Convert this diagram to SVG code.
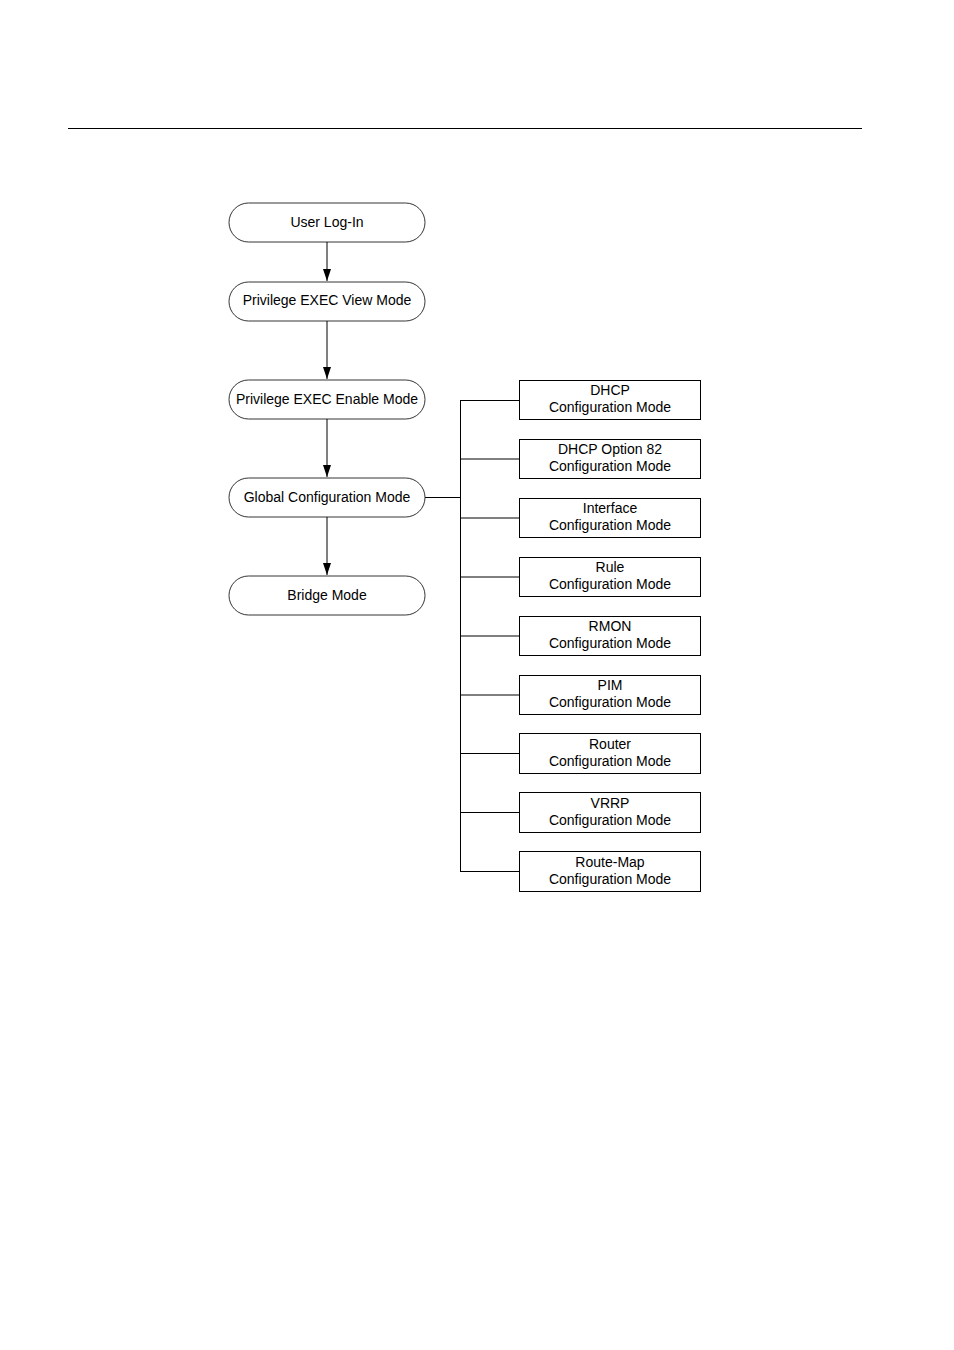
<svg xmlns="http://www.w3.org/2000/svg" width="954" height="1350" viewBox="0 0 954 1350">
<defs>
<marker id="arr" viewBox="0 0 12 8" refX="12" refY="4" markerWidth="12" markerHeight="8" markerUnits="userSpaceOnUse" orient="auto">
<path d="M0,0 L12,4 L0,8 z" fill="#000"/>
</marker>
<style>
.pill{fill:#fff;stroke:#000;stroke-width:0.8}
.box{fill:#fff;stroke:#000;stroke-width:1}
.t{font-family:"Liberation Sans",Arial,sans-serif;font-size:14px;fill:#000;text-anchor:middle}
.c{fill:none;stroke:#000;stroke-width:1}
</style>
</defs>
<rect width="954" height="1350" fill="#fff"/>
<line x1="68" y1="128.5" x2="862" y2="128.5" stroke="#000" stroke-width="1"/>
<g id="connectors">
<line class="c" x1="327" y1="242" x2="327" y2="281" marker-end="url(#arr)"/>
<line class="c" x1="327" y1="321" x2="327" y2="379" marker-end="url(#arr)"/>
<line class="c" x1="327" y1="419" x2="327" y2="477" marker-end="url(#arr)"/>
<line class="c" x1="327" y1="517" x2="327" y2="575" marker-end="url(#arr)"/>
<polyline class="c" points="425,497.5 460.5,497.5"/>
<line class="c" x1="460.5" y1="400" x2="460.5" y2="871.5"/>
<line class="c" x1="460" y1="400.5" x2="519" y2="400.5"/>
<line class="c" x1="460" y1="459" x2="519" y2="459"/>
<line class="c" x1="460" y1="518" x2="519" y2="518"/>
<line class="c" x1="460" y1="577" x2="519" y2="577"/>
<line class="c" x1="460" y1="636" x2="519" y2="636"/>
<line class="c" x1="460" y1="695" x2="519" y2="695"/>
<line class="c" x1="460" y1="753.5" x2="519" y2="753.5"/>
<line class="c" x1="460" y1="812.5" x2="519" y2="812.5"/>
<line class="c" x1="460" y1="871.5" x2="519" y2="871.5"/>
</g>
<g id="user-login"><rect class="pill" x="229" y="203" width="196" height="39" rx="19.5"/><text class="t" x="327" y="227">User Log-In</text></g>
<g id="priv-view"><rect class="pill" x="229" y="282" width="196" height="39" rx="19.5"/><text class="t" x="327" y="305">Privilege EXEC View Mode</text></g>
<g id="priv-enable"><rect class="pill" x="229" y="380" width="196" height="39" rx="19.5"/><text class="t" x="327" y="404">Privilege EXEC Enable Mode</text></g>
<g id="global"><rect class="pill" x="229" y="478" width="196" height="39" rx="19.5"/><text class="t" x="327" y="502">Global Configuration Mode</text></g>
<g id="bridge"><rect class="pill" x="229" y="576" width="196" height="39" rx="19.5"/><text class="t" x="327" y="600">Bridge Mode</text></g>
<g id="dhcp"><rect class="box" x="519.5" y="380.5" width="181" height="39"/><text class="t" x="610" y="395">DHCP</text><text class="t" x="610" y="412">Configuration Mode</text></g>
<g id="dhcp82"><rect class="box" x="519.5" y="439.5" width="181" height="39"/><text class="t" x="610" y="454">DHCP Option 82</text><text class="t" x="610" y="471">Configuration Mode</text></g>
<g id="interface"><rect class="box" x="519.5" y="498.5" width="181" height="39"/><text class="t" x="610" y="513">Interface</text><text class="t" x="610" y="530">Configuration Mode</text></g>
<g id="rule"><rect class="box" x="519.5" y="557.5" width="181" height="39"/><text class="t" x="610" y="572">Rule</text><text class="t" x="610" y="589">Configuration Mode</text></g>
<g id="rmon"><rect class="box" x="519.5" y="616.5" width="181" height="39"/><text class="t" x="610" y="631">RMON</text><text class="t" x="610" y="648">Configuration Mode</text></g>
<g id="pim"><rect class="box" x="519.5" y="675.5" width="181" height="39"/><text class="t" x="610" y="690">PIM</text><text class="t" x="610" y="707">Configuration Mode</text></g>
<g id="router"><rect class="box" x="519.5" y="733.5" width="181" height="40"/><text class="t" x="610" y="749">Router</text><text class="t" x="610" y="766">Configuration Mode</text></g>
<g id="vrrp"><rect class="box" x="519.5" y="792.5" width="181" height="40"/><text class="t" x="610" y="808">VRRP</text><text class="t" x="610" y="825">Configuration Mode</text></g>
<g id="routemap"><rect class="box" x="519.5" y="851.5" width="181" height="40"/><text class="t" x="610" y="867">Route-Map</text><text class="t" x="610" y="884">Configuration Mode</text></g>
</svg>
